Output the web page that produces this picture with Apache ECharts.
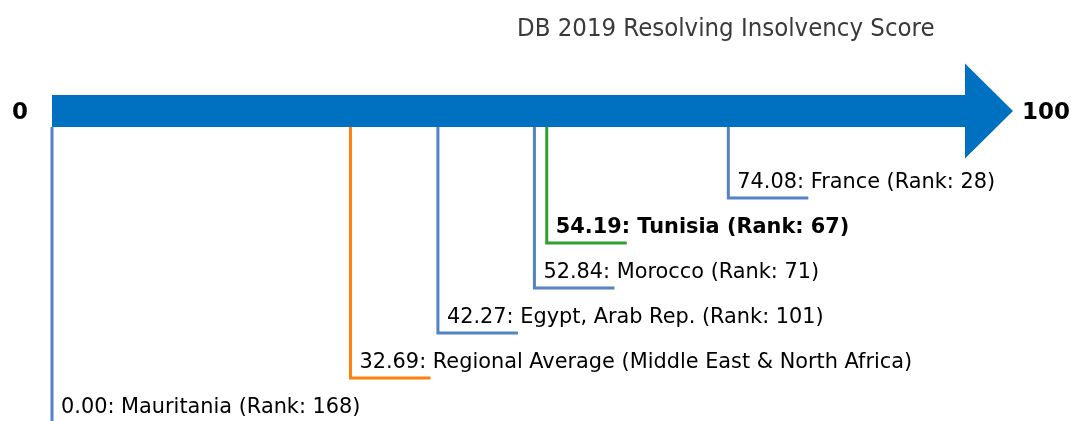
<!DOCTYPE html>
<html>
<head>
<meta charset="utf-8">
<script src="https://cdn.jsdelivr.net/npm/echarts@6/dist/echarts.min.js"></script>
<style>
  html, body { margin: 0; padding: 0; background: #fff; }
  #chart { width: 1071px; height: 421px; }
</style>
</head>
<body>
<div id="chart"></div>
<script>
// data, top to bottom as drawn
const economies = ["France", "Tunisia", "Morocco", "Egypt, Arab Rep.", "Regional Average (Middle East & North Africa)", "Mauritania"];
const scores = [74.08, 54.19, 52.84, 42.27, 32.69, 0.0];
const ranks = [28, 67, 71, 101, null, 168];
const kinds = ["peer", "focus", "peer", "peer", "region", "peer"];
const axisEnds = [0, 100];
const titleText = "DB 2019 Resolving Insolvency Score";

const colors = { peer: "#5283c4", focus: "#2ca02c", region: "#ff7f0e" };
const BAR_ROW = -1.933; // row of the arrow centre, leader rows are 0..n-1
const FONT = "DejaVu Sans";

const labelOf = (i) => {
  let s = scores[i].toFixed(2) + ": " + economies[i];
  if (ranks[i] != null) s += " (Rank: " + ranks[i] + ")";
  return s;
};

const chart = echarts.init(document.getElementById("chart"), null, { renderer: "canvas" });

const renderArrow = (params, api) => {
  const p0 = api.coord([axisEnds[0], BAR_ROW]);
  const p1 = api.coord([axisEnds[1], BAR_ROW]);
  const bh = 16, hh = 47.5, hl = 48;
  return {
    type: "group",
    children: [
      {
        type: "polygon",
        shape: {
          points: [
            [p0[0], p0[1] - bh], [p1[0], p1[1] - bh], [p1[0], p1[1] - hh],
            [p1[0] + hl, p1[1]], [p1[0], p1[1] + hh], [p1[0], p1[1] + bh],
            [p0[0], p0[1] + bh],
          ],
        },
        style: { fill: "#0070c0" },
      },
      {
        type: "text",
        style: {
          text: String(axisEnds[0]), x: p0[0] - 24, y: p0[1] + 2, align: "right", verticalAlign: "middle",
          fontFamily: FONT, fontSize: 23, fontWeight: "bold", fill: "#000",
        },
      },
      {
        type: "text",
        style: {
          text: String(axisEnds[1]), x: p1[0] + hl + 9, y: p1[1] + 2, align: "left", verticalAlign: "middle",
          fontFamily: FONT, fontSize: 23, fontWeight: "bold", fill: "#000",
        },
      },
    ],
  };
};

const renderLeader = (params, api) => {
  const i = params.dataIndex;
  const top = api.coord([api.value(0), BAR_ROW]);
  const end = api.coord([api.value(0), api.value(1)]);
  const x = top[0];
  const y0 = top[1] + 16;
  return {
    type: "group",
    children: [
      {
        type: "polyline",
        shape: { points: [[x, y0], [x, end[1]], [x + 80, end[1]]] },
        style: { stroke: colors[kinds[i]], lineWidth: 3, fill: null },
      },
      {
        type: "text",
        style: {
          text: labelOf(i), x: x + 9, y: end[1] - 15, align: "left", verticalAlign: "middle",
          fontFamily: FONT, fontSize: 20.85, fontWeight: kinds[i] === "focus" ? "bold" : "normal", fill: "#000",
        },
      },
    ],
  };
};

chart.setOption({
  animation: false,
  title: {
    text: titleText,
    left: 512,
    top: 11,
    textStyle: { fontFamily: "DejaVu Sans Condensed", fontSize: 25.5, fontWeight: "normal", color: "#3a3a3a" },
  },
  grid: { left: 52, right: 106, top: 0, bottom: 0 },
  xAxis: { type: "value", min: 0, max: 100, show: false },
  yAxis: { type: "value", min: -4.4, max: 4.956, inverse: true, show: false },
  series: [
    {
      type: "custom",
      renderItem: renderLeader,
      clip: false,
      data: scores.map((s, i) => [s, i]),
      z: 1,
    },
    {
      type: "custom",
      renderItem: renderArrow,
      clip: false,
      data: [[axisEnds[0], axisEnds[1]]],
      z: 2,
    },
  ],
});
</script>
</body>
</html>
